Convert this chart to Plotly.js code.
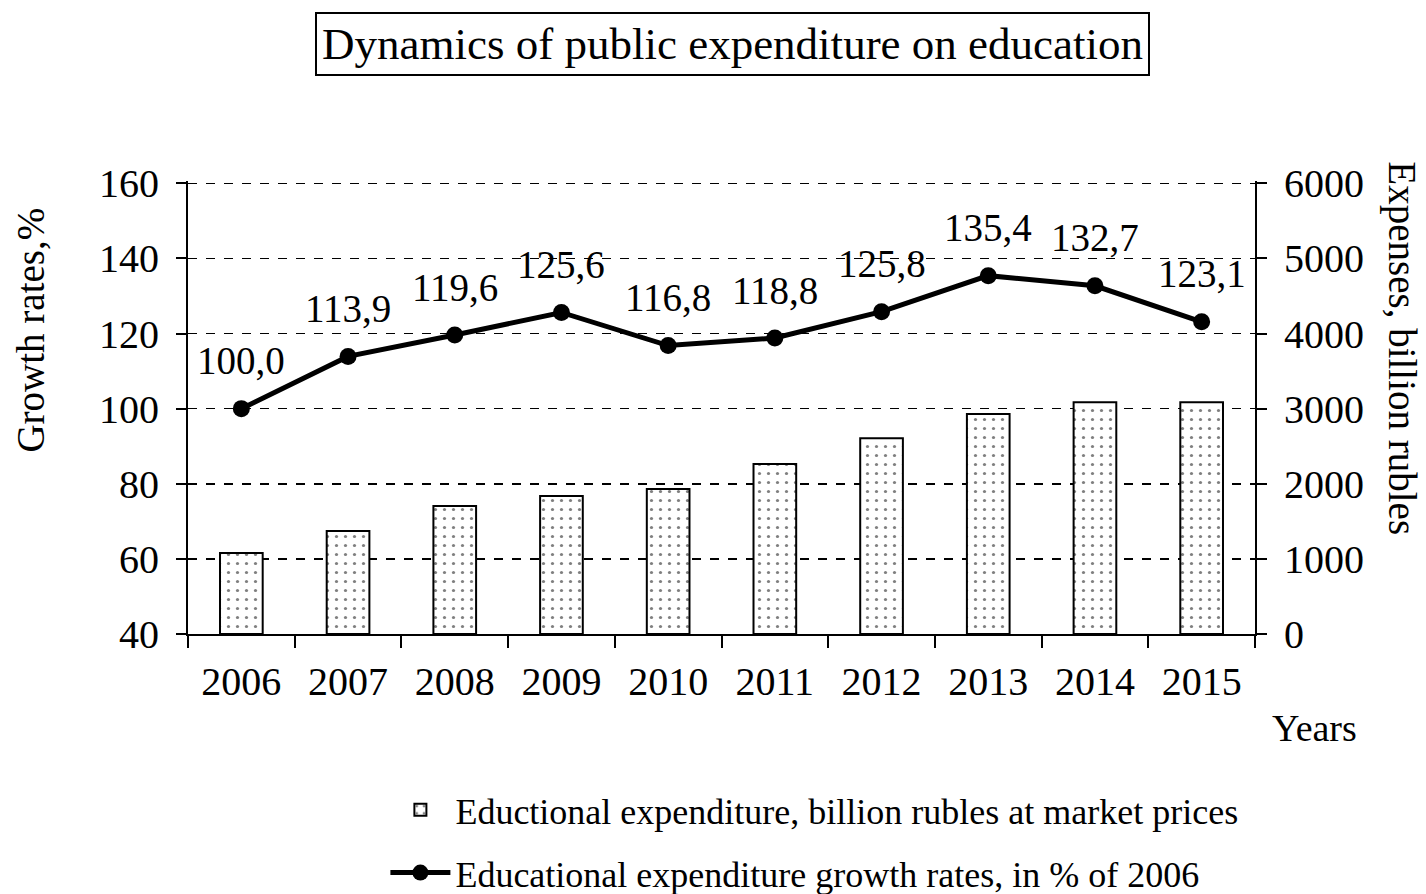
<!DOCTYPE html>
<html><head><meta charset="utf-8">
<script src="https://cdn.plot.ly/plotly-3.0.1.min.js"></script>
<style>html,body{margin:0;padding:0;background:#fff}#c{width:1426px;height:894px}</style>
</head><body><div id="c"></div>
<script>
const years = ['2006','2007','2008','2009','2010','2011','2012','2013','2014','2015'];
const expenditure = [1078, 1370, 1703, 1836, 1929, 2262, 2607, 2927, 3086, 3086];
const growthRates = [100.0, 113.9, 119.6, 125.6, 116.8, 118.8, 125.8, 135.4, 132.7, 123.1];
const growthLabels = ['100,0','113,9','119,6','125,6','116,8','118,8','125,8','135,4','132,7','123,1'];

const F = 'Liberation Serif, Times New Roman, serif';

const traces = [
  {
    type: 'bar', x: years, y: expenditure, yaxis: 'y2', width: 0.4,
    name: 'Eductional expenditure, billion rubles at market prices',
    legendgroup: 'a',
    marker: {color: 'white', line: {color: 'black', width: 2},
      pattern: {shape: '.', bgcolor: 'white', fgcolor: 'black', size: 9, solidity: 0.1, fillmode: 'overlay'}},
    hoverinfo: 'skip'
  },
  {
    type: 'scatter', mode: 'lines+markers', x: years, y: growthRates,
    name: 'Educational expenditure growth rates, in % of 2006',
    legendgroup: 'b',
    line: {color: 'black', width: 5}, marker: {color: 'black', size: 17}
  }
];

const labelAnns = years.map((yr, i) => ({
  x: i, y: growthRates[i], xref: 'x', yref: 'y', text: growthLabels[i], showarrow: false,
  yshift: 48, font: {family: F, size: 39, color: 'black'}
}));

const layout = {
  width: 1426, height: 894,
  margin: {l: 188, r: 171, t: 181, b: 260, autoexpand: false},
  paper_bgcolor: 'white', plot_bgcolor: 'white',
  font: {family: F, color: 'black', size: 36},
  showlegend: true,
  legend: {x: 0.185, y: -0.322, xanchor: 'left', yanchor: 'top', orientation: 'v',
    font: {family: F, size: 36, color: 'black'}, itemwidth: 60, tracegroupgap: 13,
    traceorder: 'grouped', bgcolor: 'rgba(0,0,0,0)'},
  xaxis: {type: 'category', range: [-0.5, 9.5], tickson: 'boundaries', ticks: 'outside', ticklen: 12,
    tickwidth: 2, tickcolor: 'black', showline: true, linecolor: 'black', linewidth: 2,
    ticklabelstandoff: 11,
    showgrid: false, tickfont: {family: F, size: 40, color: 'black'}, fixedrange: true},
  yaxis: {range: [40, 160.6], tickvals: [40, 60, 80, 100, 120, 140, 160], ticks: 'outside', ticklen: 10, tickwidth: 2, tickcolor: 'black',
    showline: true, linecolor: 'black', linewidth: 2, showgrid: true, gridcolor: 'black',
    ticklabelstandoff: 9,
    griddash: 'dash', gridwidth: 1.5, zeroline: false, tickfont: {family: F, size: 40, color: 'black'}},
  yaxis2: {range: [0, 6030], tickvals: [0, 1000, 2000, 3000, 4000, 5000, 6000], overlaying: 'y', side: 'right', ticks: 'outside', ticklen: 10,
    tickwidth: 2, tickcolor: 'black', showline: true, linecolor: 'black', linewidth: 2,
    ticklabelstandoff: 9,
    showgrid: false, zeroline: false, tickfont: {family: F, size: 40, color: 'black'}},
  annotations: labelAnns.concat([
    {text: 'Dynamics of public expenditure on education', xref: 'paper', yref: 'paper',
     x: 0.51, y: 1.302, xanchor: 'center', yanchor: 'middle', showarrow: false,
     font: {family: F, size: 45, color: 'black'}, bordercolor: 'black', borderwidth: 2, borderpad: 5},
    {text: 'Growth rates,%', xref: 'paper', yref: 'paper', x: -0.148, y: 0.67, textangle: -90,
     xanchor: 'center', yanchor: 'middle', showarrow: false, font: {family: F, size: 39, color: 'black'}},
    {text: 'Expenses, billion rubles', xref: 'paper', yref: 'paper', x: 1.138, y: 0.63, textangle: 90,
     xanchor: 'center', yanchor: 'middle', showarrow: false, font: {family: F, size: 39, color: 'black'}},
    {text: 'Years', xref: 'paper', yref: 'paper', x: 1.056, y: -0.208, xanchor: 'center', yanchor: 'middle',
     showarrow: false, font: {family: F, size: 38, color: 'black'}}
  ])
};

Plotly.newPlot('c', traces, layout, {displayModeBar: false, staticPlot: true});
</script></body></html>
